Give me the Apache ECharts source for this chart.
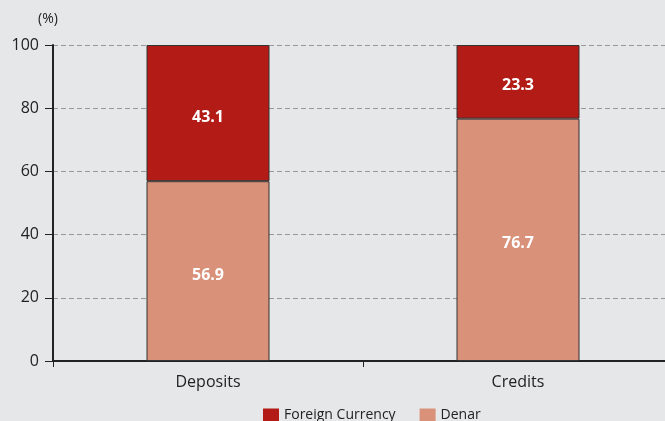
<!DOCTYPE html>
<html><head><meta charset="utf-8">
<script src="https://cdn.jsdelivr.net/npm/echarts@6/dist/echarts.min.js"></script>
<style>html,body{margin:0;padding:0;background:#e6e7e9}#c{width:665px;height:421px}</style>
</head><body><div id="c"></div>
<script>
const categories = ['Deposits', 'Credits'];
const denar = [56.9, 76.7];
const foreign = [43.1, 23.3];
const yTicks = [0, 20, 40, 60, 80, 100];

const chart = echarts.init(document.getElementById('c'));
const font = '"Open Sans", "DejaVu Sans", sans-serif';
const lbl = { show: true, position: 'inside', offset: [0, 4], color: '#fff', fontWeight: 'bold', fontSize: 16, fontFamily: font, formatter: p => p.value.toFixed(1) };
chart.setOption({
  backgroundColor: '#e6e7e9',
  animation: false,
  grid: { left: 53, width: 620, top: 45, height: 316, outerBoundsMode: 'none', containLabel: false },
  legend: {
    top: 403, left: 258, itemWidth: 16, itemHeight: 13, itemGap: 24, icon: 'rect',
    itemStyle: { borderWidth: 0 },
    textStyle: { fontFamily: font, fontSize: 14, color: '#222' },
    data: ['Foreign Currency', 'Denar']
  },
  graphic: [{ type: 'text', left: 38, top: 12, style: { text: '(%)', font: '14px ' + font, fill: '#222' } }],
  xAxis: {
    type: 'category', data: categories,
    axisLine: { lineStyle: { color: '#222', width: 2 } },
    axisTick: { show: true, length: 6, lineStyle: { color: '#222' } },
    axisLabel: { fontFamily: font, fontSize: 16, color: '#222', margin: 13 }
  },
  yAxis: {
    type: 'value', min: 0, max: 100, interval: 20,
    axisLine: { show: true, lineStyle: { color: '#222', width: 2 } },
    axisTick: { show: true, length: 8, lineStyle: { color: '#222' } },
    axisLabel: { fontFamily: font, fontSize: 16, color: '#222', margin: 14,
      formatter: v => yTicks.includes(v) ? String(v) : '' },
    splitLine: { lineStyle: { color: '#999', type: [5, 3], width: 1 } }
  },
  series: [
    { name: 'Denar', type: 'bar', stack: 's', data: denar, barWidth: 123,
      itemStyle: { color: '#d9917a', borderColor: '#333', borderWidth: 1 }, label: lbl },
    { name: 'Foreign Currency', type: 'bar', stack: 's', data: foreign, barWidth: 123,
      itemStyle: { color: '#b31b17', borderColor: '#333', borderWidth: 1 }, label: lbl }
  ]
});
</script></body></html>
